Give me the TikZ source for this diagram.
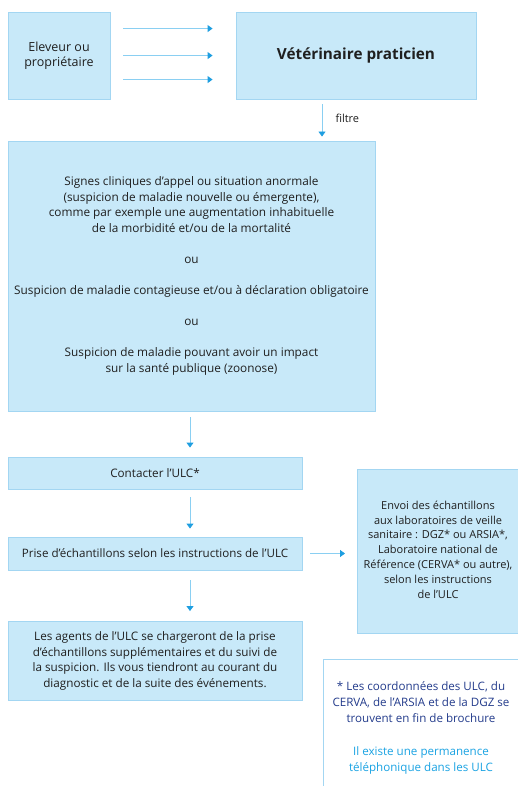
\documentclass[tikz,border=0pt]{standalone}
\usepackage{fontspec}
\setmainfont{Open Sans}
\usetikzlibrary{arrows.meta,calc}
\definecolor{boxfill}{HTML}{C8E9F9}
\definecolor{boxline}{HTML}{A3D6F2}
\definecolor{arrline}{HTML}{8ACFF2}
\definecolor{arrhead}{HTML}{1E9EE0}
\definecolor{navy}{HTML}{243C8C}
\definecolor{cyanblue}{HTML}{1AA3E3}
\tikzset{
  stepbox/.style={draw=boxline, line width=0.9pt, fill=boxfill, align=center, inner sep=0pt, font=\fontsize{11.8}{15.6}\selectfont, text=black!88},
  arr/.style={draw=arrline, line width=0.9pt, -{Triangle[width=7pt,length=5pt,color=arrhead]}},
}
\begin{document}
\begin{tikzpicture}[x=1pt,y=-1pt]
\useasboundingbox (0,0) rectangle (517,786);
\node[stepbox, minimum width=102pt, minimum height=87pt, font=\fontsize{12.5}{15}\selectfont] (ele) at (59,55.5) {Eleveur ou\\propriétaire};
\node[stepbox, minimum width=240pt, minimum height=87pt, font=\fontsize{15.3}{18}\selectfont\bfseries] (vet) at (356,55.5) {Vétérinaire praticien};
\node[stepbox, minimum width=367pt, minimum height=270pt] (big) at (191.5,276) {Signes cliniques d’appel ou situation anormale\\(suspicion de maladie nouvelle ou émergente),\\comme par exemple une augmentation inhabituelle\\de la morbidité et/ou de la mortalité\\[15.5pt]ou\\[15.5pt]Suspicion de maladie contagieuse et/ou à déclaration obligatoire\\[15.5pt]ou\\[15.5pt]Suspicion de maladie pouvant avoir un impact\\sur la santé publique (zoonose)};
\node[stepbox, minimum width=294pt, minimum height=32pt, font=\fontsize{11.7}{14}\selectfont] (ulc) at (155,473) {Contacter l’ULC*};
\node[stepbox, minimum width=294pt, minimum height=33pt, font=\fontsize{11.6}{14}\selectfont] (prise) at (155,553.5) {Prise d’échantillons selon les instructions de l’ULC};
\node[stepbox, minimum width=166pt, minimum height=164pt, anchor=north west] (envoi) at (357,469) {};
\node[align=center, font=\fontsize{11}{14.8}\selectfont, text=black!88] (envoitxt) at (438,549.5) {Envoi des échantillons\\aux laboratoires de veille\\sanitaire : DGZ* ou ARSIA*,\\Laboratoire national de\\Référence (CERVA* ou autre),\\selon les instructions\\de l’ULC};
\node[stepbox, minimum width=294pt, minimum height=79pt, font=\fontsize{11.7}{15.8}\selectfont] (agents) at (155,661) {Les agents de l’ULC se chargeront de la prise\\d’échantillons supplémentaires et du suivi de\\la suspicion. Ils vous tiendront au courant du\\diagnostic et de la suite des événements.};
\node[draw=boxline, line width=0.9pt, fill=white, minimum width=205pt, minimum height=140pt, anchor=north west] (foot) at (323,659) {};
\node[align=center, font=\fontsize{11.6}{16}\selectfont, text=navy] (foot1) at (421,702) {* Les coordonnées des ULC, du\\CERVA, de l’ARSIA et de la DGZ se\\trouvent en fin de brochure};
\node[align=center, font=\fontsize{11.6}{16}\selectfont, text=cyanblue] (foot2) at (421,760) {Il existe une permanence\\téléphonique dans les ULC};
% connectors
\foreach \yy in {29,56,80} {
  \draw[arr] ([shift={(13,\yy-12)}]ele.north east) -- ([shift={(-23,\yy-12)}]vet.north west);
}
\coordinate (f1) at ([shift={(-34,5)}]vet.south);
\draw[arr] (f1) -- (f1 |- big.north) [shorten >=4pt];
\node[anchor=west, font=\fontsize{11}{12}\selectfont, text=black!88] (filtre) at (332,118) {filtre};
\draw[arr, shorten <=6pt, shorten >=9pt] (big.south -| 190,0) -- (ulc.north -| 190,0);
\draw[arr, shorten <=8pt, shorten >=8pt] (ulc.south -| 190,0) -- (prise.north -| 190,0);
\draw[arr, shorten <=10pt, shorten >=10pt] (prise.south -| 190,0) -- (agents.north -| 190,0);
\draw[arr, shorten <=8pt, shorten >=12pt] (prise.east) -- (prise.east -| envoi.west);
\end{tikzpicture}
\end{document}
